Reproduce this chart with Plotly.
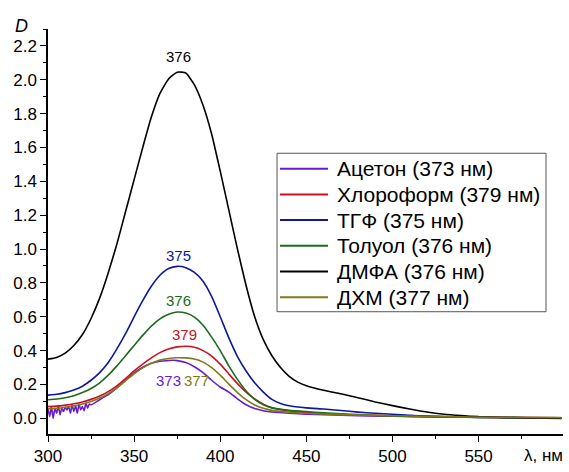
import plotly.graph_objects as go

# ---- data ----
names = ["Ацетон (373 нм)", "Хлороформ (379 нм)", "ТГФ (375 нм)",
         "Толуол (376 нм)", "ДМФА (376 нм)", "ДХМ (377 нм)"]
colors = ["#6a1ccc", "#cc1020", "#10189a", "#1d6a1d", "#000000", "#7f7a1a"]

wl_acetone = [300, 301, 302, 303, 304, 305, 306, 307, 308, 309, 310, 311, 312, 313, 314, 315, 316,
              317, 318, 319, 320, 321, 322, 323, 324, 325, 327, 330, 335, 340, 345, 350, 355, 360,
              365, 370, 373, 375, 380, 385, 390, 395, 400, 405, 410, 415, 420, 425, 430, 440, 450,
              470, 500, 530, 560, 598]
d_acetone = [0.06, 0.01, 0.07, 0.0, 0.06, 0.03, 0.075, 0.02, 0.06, 0.04, 0.065, 0.05, 0.07, 0.03,
             0.08, 0.04, 0.075, 0.03, 0.085, 0.05, 0.07, 0.045, 0.09, 0.06, 0.085, 0.08, 0.09, 0.11,
             0.14, 0.18, 0.225, 0.268, 0.302, 0.325, 0.337, 0.342, 0.343, 0.341, 0.33, 0.305, 0.27,
             0.225, 0.185, 0.155, 0.115, 0.08, 0.058, 0.045, 0.037, 0.03, 0.025, 0.018, 0.012, 0.008,
             0.005, 0.003]

wl_chloro = [300, 305, 310, 315, 320, 325, 330, 335, 340, 345, 350, 355, 360, 365, 370, 375, 380,
             385, 390, 395, 400, 405, 410, 415, 420, 425, 430, 440, 450, 460, 480, 500, 520, 540,
             560, 580, 598]
d_chloro = [0.07, 0.072, 0.078, 0.086, 0.097, 0.112, 0.132, 0.158, 0.192, 0.235, 0.28, 0.32, 0.357,
            0.388, 0.41, 0.422, 0.426, 0.42, 0.4, 0.368, 0.32, 0.262, 0.205, 0.155, 0.115, 0.084,
            0.063, 0.044, 0.035, 0.028, 0.02, 0.015, 0.011, 0.008, 0.006, 0.004, 0.003]

wl_thf = [300, 305, 310, 315, 320, 325, 330, 335, 340, 345, 350, 355, 360, 365, 370, 375, 380, 385,
          390, 395, 400, 405, 410, 415, 420, 425, 430, 435, 440, 450, 460, 470, 480, 490, 500, 510,
          520, 530, 540, 550, 560, 570, 580, 590, 598]
d_thf = [0.137, 0.142, 0.152, 0.167, 0.19, 0.225, 0.27, 0.33, 0.41, 0.5, 0.6, 0.695, 0.78, 0.845,
         0.885, 0.898, 0.89, 0.862, 0.81, 0.72, 0.6, 0.475, 0.365, 0.28, 0.21, 0.155, 0.112, 0.087,
         0.074, 0.062, 0.055, 0.046, 0.037, 0.03, 0.024, 0.018, 0.013, 0.01, 0.008, 0.006, 0.005,
         0.004, 0.003, 0.002, 0.002]

wl_toluene = [300, 305, 310, 315, 320, 325, 330, 335, 340, 345, 350, 355, 360, 365, 370, 375, 380,
              385, 390, 395, 400, 405, 410, 415, 420, 425, 430, 440, 450, 460, 470, 480, 490, 500,
              520, 540, 560, 580, 598]
d_toluene = [0.11, 0.114, 0.122, 0.134, 0.152, 0.176, 0.21, 0.255, 0.31, 0.37, 0.43, 0.49, 0.545,
             0.588, 0.615, 0.628, 0.622, 0.598, 0.55, 0.48, 0.4, 0.31, 0.23, 0.162, 0.112, 0.08,
             0.062, 0.048, 0.04, 0.033, 0.027, 0.022, 0.017, 0.014, 0.01, 0.007, 0.005, 0.003, 0.002]

wl_dmf = [300, 305, 310, 315, 320, 325, 330, 335, 340, 345, 350, 355, 360, 365, 370, 375, 380, 385,
          390, 395, 400, 405, 410, 415, 420, 425, 430, 435, 440, 445, 450, 460, 470, 480, 490, 500,
          510, 520, 530, 540, 550, 570, 598]
d_dmf = [0.35, 0.36, 0.385, 0.43, 0.495, 0.59, 0.71, 0.86, 1.03, 1.22, 1.41, 1.6, 1.78, 1.92,
         2.005, 2.045, 2.04, 1.97, 1.85, 1.68, 1.46, 1.23, 1.0, 0.785, 0.6, 0.465, 0.37, 0.3, 0.248,
         0.214, 0.193, 0.166, 0.145, 0.122, 0.097, 0.075, 0.055, 0.037, 0.024, 0.016, 0.01, 0.004,
         0.0]

wl_dcm = [300, 305, 310, 315, 320, 325, 330, 335, 340, 345, 350, 355, 360, 365, 370, 375, 380, 385,
          390, 395, 400, 405, 410, 415, 420, 425, 430, 440, 450, 470, 500, 530, 560, 598]
d_dcm = [0.058, 0.06, 0.066, 0.074, 0.085, 0.1, 0.12, 0.146, 0.18, 0.222, 0.263, 0.298, 0.325,
         0.344, 0.354, 0.358, 0.357, 0.35, 0.332, 0.3, 0.255, 0.202, 0.152, 0.11, 0.079, 0.059,
         0.047, 0.036, 0.03, 0.022, 0.015, 0.01, 0.006, 0.004]

series_x = [wl_acetone, wl_chloro, wl_thf, wl_toluene, wl_dmf, wl_dcm]
series_y = [d_acetone, d_chloro, d_thf, d_toluene, d_dmf, d_dcm]

# peak labels: text, x, y, colour index
peak_text = ["376", "375", "376", "379", "373", "377"]
peak_x = [376, 375.5, 375.5, 379.5, 370, 386.5]
peak_y = [2.135, 0.96, 0.695, 0.495, 0.225, 0.225]
peak_col = [4, 2, 3, 1, 0, 5]

FONT = "Arial, 'Liberation Sans', sans-serif"

fig = go.Figure()
for x, y, n, c in zip(series_x, series_y, names, colors):
    fig.add_trace(go.Scatter(x=x, y=y, mode="lines", name=n, showlegend=False,
                             line=dict(color=c, width=1.6, shape="spline", smoothing=0.5)))

for t, x, y, ci in zip(peak_text, peak_x, peak_y, peak_col):
    fig.add_annotation(x=x, y=y, text=t, showarrow=False,
                       font=dict(size=15, color=colors[ci], family=FONT))

# ---- legend box (drawn in plot-area paper coordinates) ----
leg_x0, leg_x1 = 0.4447, 0.9670
leg_top, leg_bot = 0.6932, 0.3019
row0, row_step = 0.6551, 0.0635
fig.add_shape(type="rect", xref="paper", yref="paper", x0=leg_x0, x1=leg_x1, y0=leg_bot, y1=leg_top,
              line=dict(color="#555", width=1), fillcolor="white", layer="above")
for i, (n, c) in enumerate(zip(names, colors)):
    yy = row0 - i * row_step
    fig.add_shape(type="line", xref="paper", yref="paper", x0=0.4505, x1=0.5437, y0=yy, y1=yy,
                  line=dict(color=c, width=2), layer="above")
    fig.add_annotation(xref="paper", yref="paper", x=0.5573, y=yy, xanchor="left", yanchor="middle",
                       text=n, showarrow=False, font=dict(size=21, color="black", family=FONT))

fig.add_annotation(xref="paper", yref="paper", x=-0.052, y=1.008, yanchor="middle", xanchor="center",
                   text="<i>D</i>", showarrow=False,
                   font=dict(size=18, color="black", family=FONT))
fig.add_annotation(xref="paper", yref="paper", x=1.004, y=-0.053, yanchor="middle", xanchor="right",
                   text="λ, нм", showarrow=False,
                   font=dict(size=17, color="black", family=FONT))

fig.update_layout(
    width=569, height=472,
    margin=dict(l=48, r=6, t=29, b=29),
    paper_bgcolor="white", plot_bgcolor="white",
    font=dict(family=FONT, size=17, color="black"),
    showlegend=False,
)
fig.update_xaxes(range=[300, 599], tickvals=[300, 350, 400, 450, 500, 550],
                 showline=True, linecolor="black", linewidth=1.5, mirror=False,
                 ticks="outside", ticklen=6, tickwidth=1.2, tickcolor="black",
                 minor=dict(dtick=25, tick0=300, ticks="outside", ticklen=3, tickcolor="black"),
                 showgrid=False, zeroline=False, tickfont=dict(size=17))
fig.update_yaxes(range=[-0.0925, 2.30], tickvals=[0.0, 0.2, 0.4, 0.6, 0.8, 1.0, 1.2, 1.4, 1.6, 1.8, 2.0, 2.2],
                 tickformat=".1f",
                 showline=True, linecolor="black", linewidth=1.5, mirror=False,
                 ticks="outside", ticklen=6, tickwidth=1.2, tickcolor="black",
                 minor=dict(dtick=0.1, tick0=0, ticks="outside", ticklen=3, tickcolor="black"),
                 showgrid=False, zeroline=False, tickfont=dict(size=17))

fig.write_html("out.html", config={"displayModeBar": False},
               post_script="document.body.style.margin='0';")
